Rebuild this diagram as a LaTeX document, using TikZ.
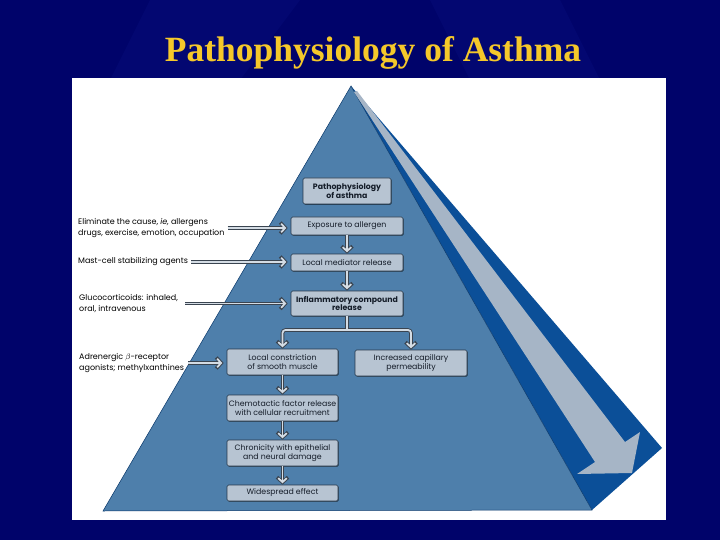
\documentclass[tikz,border=0pt]{standalone}
\usepackage{fontspec}
\setmainfont{Liberation Serif}
\newfontfamily\panelfont{Poppins}
\usetikzlibrary{arrows.meta,shadows,calc}

\definecolor{navy}{HTML}{00036A}
\definecolor{navyband}{HTML}{0A1284}
\definecolor{titlegold}{HTML}{F5C82A}
\definecolor{faceblue}{HTML}{4E7FAB}
\definecolor{sideblue}{HTML}{0B4F98}
\definecolor{sweepgrey}{HTML}{A6B5C6}
\definecolor{boxfill}{HTML}{B7C4D2}
\definecolor{boxline}{HTML}{27384A}
\definecolor{boxtext}{HTML}{141C28}
\definecolor{linkdark}{HTML}{3A4450}
\definecolor{linklight}{HTML}{D4DCE4}

\begin{document}
\begin{tikzpicture}[
  x=1pt, y=-1pt,
  outertip/.tip={Straight Barb[length=5pt,width=11pt]},
  innertip/.tip={Straight Barb[length=4pt,width=8.4pt]},
  stepbox/.style={draw=boxline, fill=boxfill, line width=0.6pt,
    rounded corners=1.5pt, text=boxtext, align=center,
    font=\panelfont\fontsize{7.8}{9.5}\selectfont,
    minimum width=112pt, inner sep=0.5pt,
    drop shadow={shadow xshift=0.8pt, shadow yshift=-0.8pt,
      fill=black, opacity=0.45}},
  boldbox/.style={stepbox, font=\panelfont\bfseries\fontsize{7.8}{8.5}\selectfont},
  drug/.style={anchor=west, align=left, text=black, inner sep=0pt,
    font=\panelfont\fontsize{8}{10.5}\selectfont},
  % hollow connectors: dark outer stroke under a light inner stroke
  stem/.style={draw=linklight, line width=1.8pt,
    preaction={draw=linkdark, line width=3.6pt, shorten >=0.9pt}},
  link/.style={draw=linklight, line width=1.8pt, -innertip, shorten >=1.3pt,
    preaction={draw=linkdark, line width=3.6pt, -outertip, shorten >=0pt}},
  twolink/.style={draw=linklight, line width=1.8pt, innertip-innertip,
    shorten >=1.3pt, shorten <=1.3pt,
    preaction={draw=linkdark, line width=3.6pt, outertip-outertip,
      shorten >=0pt, shorten <=0pt}}
]

% slide background and white panel
\useasboundingbox (0,0) rectangle (720,540);
\fill[navy] (0,0) rectangle (720,540);
\fill[navyband, opacity=0.3] (150,0) -- (300,0) -- (240,80) -- (110,80) -- cycle;
\fill[navyband, opacity=0.3] (430,0) -- (560,0) -- (600,80) -- (470,80) -- cycle;
\node[font=\fontsize{35.5}{40}\selectfont\bfseries, text=titlegold, anchor=base]
  (title) at (373,62) {Pathophysiology of Asthma};
\fill[white] (72,78) rectangle (666,520);

% ------------------------------------------------------------------
% Pyramid
% ------------------------------------------------------------------
\coordinate (apex) at (351,86);
\coordinate (baseL) at (103,511);
\coordinate (baseR) at (592,510);
\coordinate (sideR) at (662,448);

\fill[sideblue] (apex) -- (sideR) -- (baseR) -- cycle;
\fill[faceblue, draw=sideblue!70!black, line width=0.5pt]
  (apex) -- (baseR) -- (baseL) -- cycle;

% sweeping arrow on the side face
\fill[sweepgrey] (354,92) -- (595,462) -- (577,474) -- (632,473)
  -- (640,432) -- (625,442) -- (357,91) -- cycle;

% ------------------------------------------------------------------
% Cascade
% ------------------------------------------------------------------
\node[boldbox, minimum width=88pt, minimum height=26pt] (head) at (347,191)
  {Pathophysiology\\of asthma};
\node[stepbox, minimum height=18pt] (expo) at (347,226) {Exposure to allergen};
\node[stepbox, minimum height=17pt] (medi) at (347,262.5) {Local mediator release};
\node[boldbox, minimum height=25pt] (infl) at (347,303.5)
  {Inflammatory compound\\release};
\node[stepbox, minimum width=111pt, minimum height=26pt] (lcon) at (282.5,362)
  {Local constriction\\of smooth muscle};
\node[stepbox, minimum height=26pt] (icap) at (411,363)
  {Increased capillary\\permeability};
\node[stepbox, minimum width=111pt, minimum height=26pt] (chem) at (282.5,408)
  {Chemotactic factor release\\with cellular recruitment};
\node[stepbox, minimum width=111pt, minimum height=26pt] (chro) at (282.5,453)
  {Chronicity with epithelial\\and neural damage};
\node[stepbox, minimum width=111pt, minimum height=16pt] (wide) at (282.5,493)
  {Widespread effect};

\draw[link] (expo) -- (medi);
\draw[link] (medi) -- (infl);
\draw[link] (lcon) -- (chem);
\draw[link] (chem) -- (chro);
\draw[link] (chro) -- (wide);

% branch to the two effects
\coordinate (split) at (347,330);
\draw[twolink, rounded corners=3pt] (lcon.north) |- (split) -| (icap.north);
\draw[stem] (infl.south) -- (split);

% ------------------------------------------------------------------
% Treatments
% ------------------------------------------------------------------
\node[drug] (elim) at (78,228)
  {Eliminate the cause, \emph{ie,} allergens\\drugs, exercise, emotion, occupation};
\node[drug] (mast) at (78,262) {Mast-cell stabilizing agents};
\node[drug] (gluc) at (79,303.5) {Glucocorticoids: inhaled,\\oral, intravenous};
\node[drug] (adre) at (79,363) {Adrenergic $\beta$-receptor\\agonists; methylxanthines};

\draw[link] ($(elim.east)+(3,0)$) -- ($(elim.east -| expo.west)+(-3,0)$);
\draw[link] ($(mast.east)+(3,0)$) -- ($(mast.east -| medi.west)+(-3,0)$);
\draw[link] ($(gluc.east)+(7,0)$) -- ($(gluc.east -| infl.west)+(-3,0)$);
\draw[link] ($(adre.east)+(4,0)$) -- ($(adre.east -| lcon.west)+(-3,0)$);

\end{tikzpicture}
\end{document}
